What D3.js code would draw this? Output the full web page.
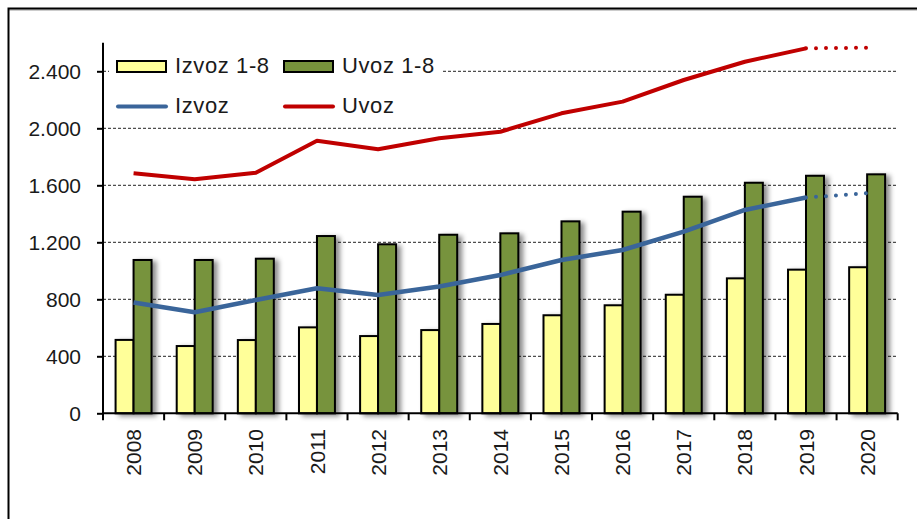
<!DOCTYPE html>
<html>
<head>
<meta charset="utf-8">
<script src="https://cdn.jsdelivr.net/npm/d3@7"></script>
<style>
  html, body { margin: 0; padding: 0; background: #fff; }
  svg { display: block; }
  text { font-family: "Liberation Sans", Arial, sans-serif; fill: #1a1a1a; }
</style>
</head>
<body>
<svg id="chart" width="917" height="519"></svg>
<script>
// ---- data ----
const years = ["2008","2009","2010","2011","2012","2013","2014","2015","2016","2017","2018","2019","2020"];
const izvoz18 = [515, 472, 514, 603, 542, 584, 627, 688, 758, 832, 947, 1008, 1025];
const uvoz18  = [1076, 1076, 1085, 1244, 1186, 1253, 1263, 1347, 1415, 1520, 1618, 1667, 1677];
const izvoz   = [777, 709, 795, 877, 830, 890, 970, 1076, 1146, 1275, 1427, 1514];
const uvoz    = [1684, 1642, 1688, 1913, 1853, 1930, 1976, 2105, 2187, 2339, 2467, 2561];
const izvozProj = [["2019", 1514], ["2020", 1544]];
const uvozProj  = [["2019", 2561], ["2020", 2566]];
const yTicks = [0, 400, 800, 1200, 1600, 2000, 2400];
const seriesNames = ["Izvoz 1-8", "Uvoz 1-8", "Izvoz", "Uvoz"];

const colors = { izvoz18: "#FFFF99", uvoz18: "#77933C", izvoz: "#3A659A", uvoz: "#C00000" };

const svg = d3.select("#chart");
const fmt = d3.formatLocale({ decimal: ",", thousands: ".", grouping: [3], currency: ["", ""] }).format(",d");

// outer frame
svg.append("line").attr("x1", 8).attr("x2", 917).attr("y1", 10).attr("y2", 10).attr("stroke", "#bbb").attr("stroke-width", 1.5);
svg.append("rect").attr("x", 8.5).attr("y", 8.5).attr("width", 1200).attr("height", 1200)
  .attr("fill", "none").attr("stroke", "#000").attr("stroke-width", 2);

const L = 103, R = 897.7, T = 42.8, B = 413.3;
const x = d3.scaleBand().domain(years).range([L, R]).padding(0);
const xs = d3.scaleBand().domain(["izvoz18", "uvoz18"]).range([0, x.bandwidth()]).paddingInner(0).paddingOuter(0.7);
const y = d3.scaleLinear().domain([0, 2600]).range([B, T]);
const cx = d => x(d) + x.bandwidth() / 2;

// shadow filter
const defs = svg.append("defs");
const f = defs.append("filter").attr("id", "shadow").attr("x", "-50%").attr("y", "-10%").attr("width", "200%").attr("height", "130%");
f.append("feDropShadow").attr("dx", 4).attr("dy", 2).attr("stdDeviation", 2.5).attr("flood-color", "#000").attr("flood-opacity", 0.45);

// gridlines
svg.append("g").selectAll("line").data(yTicks.filter(t => t > 0)).join("line")
  .attr("x1", L).attr("x2", R).attr("y1", d => y(d)).attr("y2", d => y(d))
  .attr("stroke", "#222").attr("stroke-width", 1).attr("stroke-dasharray", "3,2");

// bars
const barData = [];
years.forEach((yr, i) => {
  barData.push({ yr, key: "izvoz18", v: izvoz18[i] });
  barData.push({ yr, key: "uvoz18", v: uvoz18[i] });
});
svg.append("g").attr("filter", "url(#shadow)").selectAll("rect").data(barData).join("rect")
  .attr("x", d => x(d.yr) + xs(d.key))
  .attr("width", xs.bandwidth())
  .attr("y", d => y(d.v))
  .attr("height", d => y(0) - y(d.v))
  .attr("fill", d => colors[d.key])
  .attr("stroke", "#000").attr("stroke-width", 2);

// lines
const line = d3.line().x(d => cx(d[0])).y(d => y(d[1]));
const izvozPts = izvoz.map((v, i) => [years[i], v]);
const uvozPts = uvoz.map((v, i) => [years[i], v]);
svg.append("path").attr("d", line(izvozPts)).attr("fill", "none").attr("stroke", colors.izvoz).attr("stroke-width", 4.5).attr("stroke-linejoin", "round");
svg.append("path").attr("d", line(uvozPts)).attr("fill", "none").attr("stroke", colors.uvoz).attr("stroke-width", 4).attr("stroke-linejoin", "round");
svg.append("path").attr("d", line(izvozProj)).attr("fill", "none").attr("stroke", colors.izvoz).attr("stroke-width", 4)
  .attr("stroke-linecap", "round").attr("stroke-dasharray", "0,10").attr("stroke-dashoffset", -10);
svg.append("path").attr("d", line(uvozProj)).attr("fill", "none").attr("stroke", colors.uvoz).attr("stroke-width", 4)
  .attr("stroke-linecap", "round").attr("stroke-dasharray", "0,10").attr("stroke-dashoffset", -10);

// y axis
const yAxis = svg.append("g").attr("transform", `translate(${L},0)`)
  .call(d3.axisLeft(y).tickValues(yTicks).tickFormat(fmt).tickSize(6).tickPadding(16));
yAxis.select(".domain").attr("stroke", "#000").attr("stroke-width", 2).attr("d", `M-0,${B}V${T}`);
yAxis.selectAll(".tick line").attr("stroke", "#000").attr("stroke-width", 2);
yAxis.selectAll(".tick text").attr("font-size", 21).attr("fill", "#1a1a1a").attr("font-family", "Liberation Sans, Arial, sans-serif");

// x axis
const xAxis = svg.append("g").attr("transform", `translate(0,${B})`)
  .call(d3.axisBottom(x).tickSize(0).tickFormat(""));
xAxis.select(".domain").attr("stroke", "#000").attr("stroke-width", 2).attr("d", `M${L},0H${R}`);
const bounds = years.map(d => x(d)).concat([R]);
xAxis.append("g").selectAll("line").data(bounds).join("line")
  .attr("x1", d => d).attr("x2", d => d).attr("y1", 0).attr("y2", 7)
  .attr("stroke", "#000").attr("stroke-width", 2);
svg.append("g").selectAll("text").data(years).join("text")
  .attr("transform", d => `translate(${cx(d)},${429}) rotate(-90)`)
  .attr("text-anchor", "end").attr("dy", "0.36em")
  .attr("font-size", 21).text(d => d);

// legend
svg.append("rect").attr("x", 109).attr("y", 48).attr("width", 332).attr("height", 74).attr("fill", "#fff");
const leg = [
  { name: seriesNames[0], type: "bar", color: colors.izvoz18, x: 117, y: 66.5 },
  { name: seriesNames[1], type: "bar", color: colors.uvoz18, x: 284, y: 66.5 },
  { name: seriesNames[2], type: "line", color: colors.izvoz, x: 117, y: 106.5 },
  { name: seriesNames[3], type: "line", color: colors.uvoz, x: 284, y: 106.5 }
];
const lg = svg.append("g").selectAll("g").data(leg).join("g");
lg.filter(d => d.type === "bar").append("rect")
  .attr("x", d => d.x).attr("y", d => d.y - 5.5).attr("width", 49).attr("height", 11)
  .attr("fill", d => d.color).attr("stroke", "#000").attr("stroke-width", 2);
lg.filter(d => d.type === "line").append("line")
  .attr("x1", d => d.x + 1).attr("x2", d => d.x + 49).attr("y1", d => d.y).attr("y2", d => d.y)
  .attr("stroke", d => d.color).attr("stroke-width", 4).attr("stroke-linecap", "round");
lg.append("text").attr("x", d => d.x + 58).attr("y", d => d.y + 6.5)
  .attr("font-size", 22).attr("letter-spacing", 0.6).text(d => d.name);
</script>
</body>
</html>
